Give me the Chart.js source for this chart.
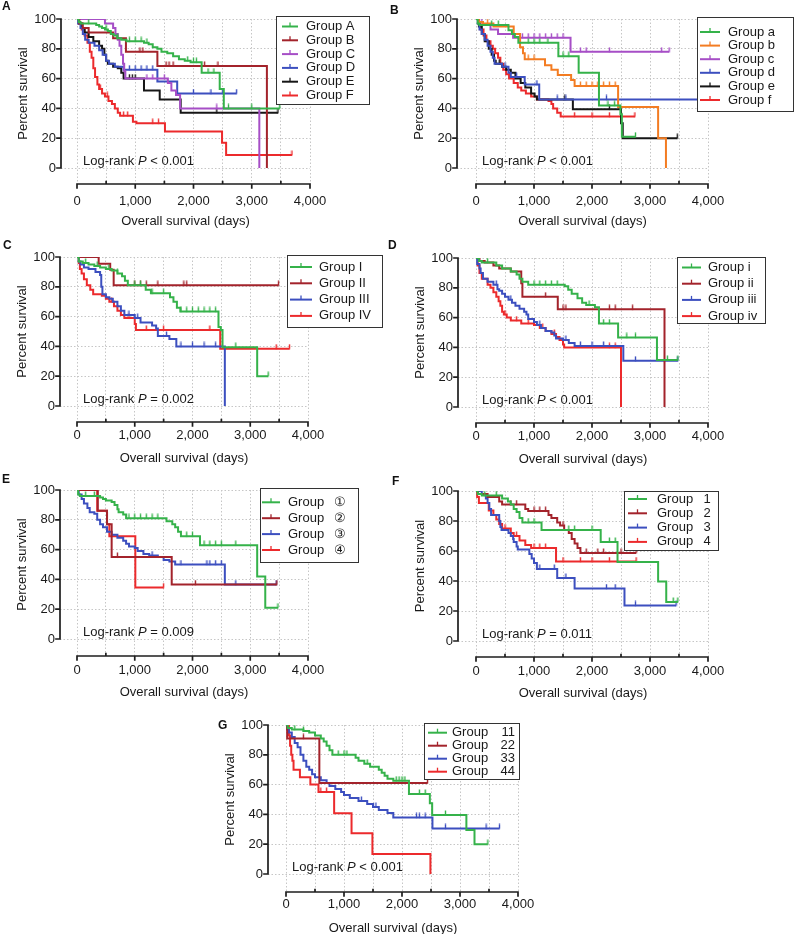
<!DOCTYPE html>
<html>
<head>
<meta charset="utf-8">
<script src="https://cdn.jsdelivr.net/npm/chart.js@4.4.0/dist/chart.umd.min.js"></script>
<style>
  body { margin: 0; background: #fff; }
  #fig { position: relative; width: 795px; height: 934px; overflow: hidden; background: #fff; }
  #fig canvas { position: absolute; }
  .tag { position: absolute; font: bold 12px "Liberation Sans", Arial, sans-serif; color: #111; line-height: 14px; }
</style>
</head>
<body>
<div id="fig"></div>
<script>
// axis ticks shared by every panel
const X_TICKS = [0, 500, 1000, 1500, 2000, 2500, 3000, 3500, 4000];
const Y_TICKS = [0, 20, 40, 60, 80, 100];

// Kaplan-Meier steps as [day, percent]; *_C = censored days
// Panel A
const A1 = [[0,100],[30,98],[60,97],[330,96],[380,95],[430,94],[480,93],[530,92],[580,90],[630,89],[690,87],[760,86],[850,85],[1150,84],[1230,83],[1300,81],[1380,80],[1450,78],[1550,77],[1650,75],[1750,73],[1850,72],[1950,71],[2140,64],[2450,53],[2520,40],[3480,40]];
const A1_C = [200, 500, 700, 900, 1000, 1100, 1200, 1900, 2000, 2050, 2250, 2350, 2600, 3000, 3480];
const A2 = [[0,100],[40,97],[100,94],[200,91],[620,87],[840,78],[1380,68.5],[3260,0]];
const A2_C = [1080, 1130, 1530, 1580, 1650, 2190, 2420];
const A3 = [[0,100],[480,97],[620,94],[660,90],[700,86],[730,82],[760,76],[790,70],[810,65],[830,60],[1560,57],[1620,52],[1700,49],[1770,40],[3130,0]];
const A3_C = [300, 400, 1200, 1300, 1500, 2400];
const A4 = [[0,100],[20,97],[60,94],[100,90],[140,86],[200,84],[300,82],[380,79],[440,76],[500,72],[550,70],[650,68],[800,66],[1380,58],[1720,50],[2740,50]];
const A4_C = [900, 1000, 1100, 1200, 1300, 2000, 2300, 2500, 2740];
const A5 = [[0,100],[30,97],[80,94],[130,91],[200,88],[280,85],[380,82],[430,80],[470,76],[500,72],[530,70],[620,68],[700,67],[760,64],[800,60],[1150,52],[1420,46],[1780,37],[3450,37]];
const A5_C = [900, 950, 1000, 2400, 3450];
const A6 = [[0,100],[30,97],[80,93],[130,89],[180,84],[220,78],[250,74],[280,67],[310,61],[350,56],[380,53],[430,50],[480,48],[540,45],[600,43],[650,40],[700,37],[740,35],[960,31],[1020,30],[1510,24.5],[2490,17],[2560,8.7],[3690,8.7]];
const A6_C = [400, 520, 800, 870, 1300, 1400, 3690];

// Panel B
const B1 = [[0,100],[30,97],[60,96],[560,92.5],[620,90],[670,88],[730,84],[1420,75],[1770,64],[2120,42],[2490,36],[2515,21],[2750,21]];
const B1_C = [270, 384, 900, 1000, 1100, 1240, 1500, 1600, 2275, 2390, 2750];
const B2 = [[0,100],[50,98],[120,97],[300,95],[650,90],[760,81],[810,77],[840,73],[1190,69],[1300,66],[1410,62.5],[1640,59],[1700,55],[2450,41],[3140,20],[3275,0]];
const B2_C = [200, 900, 1000, 1800, 1900, 2000, 2100, 2200, 2300, 2400];
const B3 = [[0,100],[40,98],[120,96],[250,93],[380,90],[640,87.5],[1630,78],[3330,78]];
const B3_C = [100, 800, 900, 1000, 1100, 1200, 1300, 1400, 1500, 1800, 1900, 2300, 3200, 3330];
const B4 = [[0,100],[30,97],[60,93],[100,90],[150,86],[200,82],[250,78],[290,74],[320,70],[450,68],[560,64],[600,61],[840,56],[1090,46],[3960,46]];
const B4_C = [500, 700, 1050, 1400, 1550, 2250, 3960];
const B5 = [[0,100],[50,95],[100,90],[150,85],[220,80],[270,76],[310,72],[340,70],[450,68],[520,66],[600,64],[680,60],[770,57],[850,54],[950,50],[1010,48],[1050,46],[1670,39.5],[2500,30],[2530,20],[3470,20]];
const B5_C = [400, 1530, 2300, 3470];
const B6 = [[0,100],[40,97],[80,93],[130,89],[180,85],[250,82],[290,80],[330,77],[380,74],[420,70],[470,66],[520,63],[570,60],[650,57],[720,54],[780,52],[860,50],[950,48],[1050,46],[1250,45],[1300,43],[1330,40],[1400,37],[1460,34.5],[2740,34.5]];
const B6_C = [1700, 2000, 2300, 2500, 2740];

// Panel C
const C1 = [[0,100],[30,97],[100,96],[200,95],[300,94],[400,93],[500,92],[600,91],[700,89],[780,87],[830,84],[880,81],[1190,78],[1280,75.6],[1610,73],[1670,70],[1730,66],[1790,63.5],[2450,53],[2490,51],[2520,39.5],[3120,20],[3310,20]];
const C1_C = [150, 350, 550, 700, 1000, 1100, 1300, 1500, 1800, 1900, 2000, 2100, 2200, 2300, 2400, 2750, 3310];
const C2 = [[0,100],[375,95.5],[575,91.5],[635,81],[3490,81]];
const C2_C = [1000, 1100, 1200, 1400, 1850, 1900, 3490];
const C3 = [[0,100],[30,97],[60,95],[120,93],[200,92],[320,90],[400,88],[420,80],[440,75],[500,73],[560,72],[620,70],[700,67],[760,64],[820,61],[1000,59],[1100,56],[1300,54],[1370,52],[1400,47],[1600,45],[1720,40],[2560,0]];
const C3_C = [900, 1050, 1550, 1800, 2000, 2200, 2400];
const C4 = [[0,100],[30,96],[50,92],[80,89],[120,85],[170,81],[230,78],[280,75],[430,74],[500,72],[560,70],[640,67],[700,64],[760,61],[820,59],[1000,55],[1020,51],[2480,38.5],[3680,38.5]];
const C4_C = [600, 900, 1200, 1500, 2300, 3450, 3680];

// Panel D
const D1 = [[0,100],[50,98],[100,97],[350,95],[450,93],[600,91],[700,89],[750,86],[800,84],[900,82],[1530,81],[1590,78.7],[1650,76],[1750,73],[1830,70],[1900,68.5],[2050,67],[2120,56],[2450,46.7],[3120,31.5],[3480,31.5]];
const D1_C = [200, 1000, 1100, 1200, 1300, 1400, 1950, 2200, 2300, 2600, 2750, 3300, 3480];
const D2 = [[0,100],[60,98],[150,97],[300,95],[400,93],[600,91],[780,83],[800,74],[1410,65.6],[3250,0]];
const D2_C = [1200, 1500, 1550, 2300, 2400, 2700];
const D3 = [[0,100],[20,96],[60,93],[80,90],[120,86],[200,84],[300,82],[370,79],[400,78],[450,76],[500,74],[560,72],[620,70],[680,68],[750,66],[830,64],[870,62],[900,59],[1000,57],[1050,55],[1120,53],[1200,51],[1300,50],[1350,48],[1380,46],[1500,45],[1600,43],[1700,41],[2540,31],[3480,31]];
const D3_C = [350, 600, 1100, 1550, 1800, 2000, 2200, 2750, 3480];
const D4 = [[0,100],[30,95],[60,90],[100,86],[200,82],[250,80],[300,77],[350,74],[390,71],[420,68],[450,64],[480,62],[530,60],[600,58],[780,56],[1000,55],[1100,53],[1200,51],[1300,49],[1380,47],[1440,45],[1500,42],[1520,40],[2500,0]];
const D4_C = [500, 700, 900, 1150, 1350, 2300, 2400];

// Panel E
const E1 = [[0,100],[20,97],[50,96],[400,95],[450,94],[500,93],[600,92],[650,90],[700,87],[720,85],[800,83.6],[850,81],[1550,79],[1650,77],[1700,75],[1750,72],[1800,69],[2130,63],[3120,42],[3260,21],[3480,21]];
const E1_C = [150, 300, 900, 1000, 1100, 1200, 1300, 1400, 1900, 2000, 2200, 2300, 2400, 2500, 2750, 3480];
const E2 = [[0,100],[360,86],[520,77],[600,55],[1640,36.5],[3460,36.5]];
const E2_C = [150, 700, 2050, 3460];
const E3 = [[0,100],[30,97],[80,94],[120,91],[180,88],[220,85],[300,84],[350,80],[400,77],[450,75],[520,72],[600,70],[700,68],[800,66],[850,64],[900,62],[1000,61],[1050,59],[1150,57],[1250,56],[1400,55],[1500,53],[1600,52],[1700,50],[2560,36.5],[3450,36.5]];
const E3_C = [1300, 1800, 2250, 2300, 2400, 2500, 2750, 3450];
const E4 = [[0,100],[350,86],[520,77],[560,69],[1010,34.5],[1500,34.5]];
const E4_C = [1500];

// Panel F
const F1 = [[0,100],[30,98],[100,97],[450,95],[550,93],[600,91],[650,88],[700,86],[750,82],[800,79],[1130,74],[2150,66],[2440,52.7],[3140,39.7],[3280,26],[3480,26]];
const F1_C = [150, 350, 900, 1000, 1600, 1700, 2000, 2300, 2400, 3400, 3480];
const F2 = [[0,100],[30,98],[200,96],[400,93],[450,91],[850,88],[900,86.6],[1250,84],[1300,82],[1400,79],[1450,77],[1520,74],[1600,72],[1650,68],[1700,65],[1750,62],[1800,58.7],[2760,58.7]];
const F2_C = [600, 700, 1000, 1100, 1200, 1500, 1900, 2100, 2200, 2500, 2760];
const F3 = [[0,100],[100,98],[170,95],[200,92],[230,88],[260,84],[400,80],[420,76],[440,74],[560,72],[600,70],[640,68],[650,66],[700,63],[720,61],[920,58],[960,55],[1000,52],[1050,48],[1400,42],[1700,35],[2560,23.7],[3450,23.7]];
const F3_C = [1100, 1350, 1550, 2250, 2400, 2750, 3450];
const F4 = [[0,100],[20,96],[50,92],[220,87],[300,84],[350,81],[400,78],[450,75],[600,72],[650,70],[750,67],[850,64],[950,62],[1380,53],[2760,53]];
const F4_C = [500, 700, 1000, 1100, 1200, 1500, 1800, 2000, 2300, 2760];

// Panel G
const G1 = [[0,100],[30,98],[100,97],[300,96],[400,95],[500,93],[600,91],[650,89],[700,86],[750,83],[800,80],[1200,78],[1250,76],[1350,74],[1450,72],[1600,70],[1650,68],[1700,66],[1750,64],[1850,62.6],[2120,53.7],[2480,47.4],[2520,39.6],[3110,29.5],[3250,20],[3480,20]];
const G1_C = [150, 300, 900, 1000, 1050, 1400, 1900, 1950, 2000, 2050, 2300, 2400, 2750, 3480];
const G2 = [[0,100],[20,91],[575,61],[2440,61]];
const G2_C = [300, 2440];
const G3 = [[0,100],[20,97],[50,95],[100,92],[150,88],[200,85],[250,80],[300,76],[350,72],[400,70],[450,67],[500,65],[600,63],[700,61],[750,59],[850,57],[950,55],[1000,53],[1100,51],[1250,49],[1400,47],[1500,45],[1600,43],[1750,41],[1850,38],[2525,30.6],[3680,30.6]];
const G3_C = [1300, 1550, 2250, 2300, 2400, 2750, 3450, 3680];
const G4 = [[0,100],[50,93],[70,86],[90,80],[110,76],[130,70],[240,65],[420,60],[560,55],[830,40.7],[1130,27.3],[1490,13.4],[2490,0]];
const G4_C = [600, 700];

const LABELS_A = ['Group A', 'Group B', 'Group C', 'Group D', 'Group E', 'Group F'];
const LABELS_B = ['Group a', 'Group b', 'Group c', 'Group d', 'Group e', 'Group f'];
const LABELS_C = ['Group I', 'Group II', 'Group III', 'Group IV'];
const LABELS_D = ['Group i', 'Group ii', 'Group iii', 'Group iv'];
const LABELS_E = ['Group\t\u2460', 'Group\t\u2461', 'Group\t\u2462', 'Group\t\u2463'];
const LABELS_F = ['Group\t1', 'Group\t2', 'Group\t3', 'Group\t4'];
const LABELS_G = ['Group\t11', 'Group\t22', 'Group\t33', 'Group\t44'];

const P_TEXT = { A: '< 0.001', B: '< 0.001', C: '= 0.002', D: '< 0.001', E: '= 0.009', F: '= 0.011', G: '< 0.001' };

const GREEN = '#35b24a', DARKRED = '#a3232b', PURPLE = '#a64ec6', BLUE = '#3c4fbf',
      BLACK = '#161616', RED = '#ec2a2c', ORANGE = '#f37c22';
const FONT = '"Liberation Sans", Arial, Helvetica, sans-serif';
const AXIS_COLOR = '#1e1e1e';
const TEXT_COLOR = '#1a1a1a';

function group(steps, cens, color) { return { steps, cens, color }; }

// geo: page pixels of the axes; lab/ttl = distance of tick labels / title below the x axis line
const PANELS = [
  { letter: 'A', box: { x: 0, y: 0, w: 395, h: 232 }, tagAt: [2, -1],
    geo: { yAxis: 61, x0: 77, x4000: 310, y100: 19, y0: 168, xAxis: 184, lab: 17, ttl: 37 },
    legend: { left: 276, top: 16, right: 369, bottom: 104, row0: 26.5, gap: 13.8, l1: 282, l2: 298, tx: 306 },
    labels: LABELS_A,
    series: [group(A1, A1_C, GREEN), group(A2, A2_C, DARKRED), group(A3, A3_C, PURPLE),
             group(A4, A4_C, BLUE), group(A5, A5_C, BLACK), group(A6, A6_C, RED)] },
  { letter: 'B', box: { x: 395, y: 0, w: 400, h: 232 }, tagAt: [390, 3],
    geo: { yAxis: 457, x0: 476, x4000: 708, y100: 19, y0: 168, xAxis: 184, lab: 17, ttl: 37 },
    legend: { left: 697, top: 17, right: 793, bottom: 111, row0: 32, gap: 13.6, l1: 700, l2: 720, tx: 728 },
    labels: LABELS_B,
    series: [group(B1, B1_C, GREEN), group(B2, B2_C, ORANGE), group(B3, B3_C, PURPLE),
             group(B4, B4_C, BLUE), group(B5, B5_C, BLACK), group(B6, B6_C, RED)] },
  { letter: 'C', box: { x: 0, y: 232, w: 395, h: 236 }, tagAt: [3, 238],
    geo: { yAxis: 60, x0: 77, x4000: 308, y100: 257, y0: 406, xAxis: 422, lab: 13, ttl: 36 },
    legend: { left: 287, top: 255, right: 382, bottom: 327, row0: 267, gap: 16.3, l1: 290, l2: 312, tx: 319 },
    labels: LABELS_C,
    series: [group(C1, C1_C, GREEN), group(C2, C2_C, DARKRED), group(C3, C3_C, BLUE), group(C4, C4_C, RED)] },
  { letter: 'D', box: { x: 395, y: 232, w: 400, h: 236 }, tagAt: [388, 238],
    geo: { yAxis: 458, x0: 476, x4000: 708, y100: 258, y0: 407, xAxis: 423, lab: 13, ttl: 36 },
    legend: { left: 677, top: 257, right: 765, bottom: 323, row0: 267.5, gap: 16.2, l1: 682, l2: 701, tx: 708 },
    labels: LABELS_D,
    series: [group(D1, D1_C, GREEN), group(D2, D2_C, DARKRED), group(D3, D3_C, BLUE), group(D4, D4_C, RED)] },
  { letter: 'E', box: { x: 0, y: 468, w: 395, h: 232 }, tagAt: [2, 472],
    geo: { yAxis: 60, x0: 77, x4000: 308, y100: 490, y0: 639, xAxis: 656, lab: 14, ttl: 36 },
    legend: { left: 260, top: 488, right: 358, bottom: 562, row0: 502.3, gap: 15.9, l1: 262, l2: 280, tx: 288, tagX: 340, tagAlign: 'center' },
    labels: LABELS_E,
    series: [group(E1, E1_C, GREEN), group(E2, E2_C, DARKRED), group(E3, E3_C, BLUE), group(E4, E4_C, RED)] },
  { letter: 'F', box: { x: 395, y: 468, w: 400, h: 232 }, tagAt: [392, 474],
    geo: { yAxis: 458, x0: 476, x4000: 708, y100: 491, y0: 641, xAxis: 657, lab: 14, ttl: 36 },
    legend: { left: 624, top: 491, right: 718, bottom: 550, row0: 499, gap: 14.3, l1: 628, l2: 647, tx: 657, tagX: 707, tagAlign: 'center' },
    labels: LABELS_F,
    series: [group(F1, F1_C, GREEN), group(F2, F2_C, DARKRED), group(F3, F3_C, BLUE), group(F4, F4_C, RED)] },
  { letter: 'G', box: { x: 200, y: 700, w: 420, h: 234 }, tagAt: [218, 718],
    geo: { yAxis: 268, x0: 286, x4000: 518, y100: 725, y0: 874, xAxis: 892, lab: 12, ttl: 36 },
    legend: { left: 424, top: 723, right: 519, bottom: 779, row0: 732.7, gap: 13, l1: 428, l2: 447, tx: 452, tagX: 515, tagAlign: 'right' },
    labels: LABELS_G,
    series: [group(G1, G1_C, GREEN), group(G2, G2_C, DARKRED), group(G3, G3_C, BLUE), group(G4, G4_C, RED)] },
];

// survival shown by the step curve at day t (for placing censor ticks)
function survivalAt(steps, t) {
  let s = steps[0][1];
  for (const [d, v] of steps) {
    if (d <= t) s = v; else break;
  }
  return s;
}

// small upward tick used as the censor marker
const tickCache = {};
function censorMark(color) {
  if (!tickCache[color]) {
    const c = document.createElement('canvas');
    c.width = 3;
    c.height = 10;
    const x = c.getContext('2d');
    x.strokeStyle = color;
    x.lineWidth = 1.4;
    x.beginPath();
    x.moveTo(1.5, 0.5);
    x.lineTo(1.5, 5.5);
    x.stroke();
    tickCache[color] = c;
  }
  return tickCache[color];
}

function makeDecor(p) {
  const ox = p.box.x, oy = p.box.y;
  return {
    id: 'kmDecor' + p.letter,
    afterDraw(chart) {
      const ctx = chart.ctx, xs = chart.scales.x, ys = chart.scales.y;
      const ax = chart.chartArea.left, ay = chart.chartArea.bottom;
      const x0 = xs.getPixelForValue(0), x4 = xs.getPixelForValue(4000);
      const y0 = ys.getPixelForValue(0), y100 = ys.getPixelForValue(100);
      ctx.save();

      // offset axes, GraphPad style
      ctx.strokeStyle = AXIS_COLOR;
      ctx.lineWidth = 1.7;
      ctx.lineCap = 'square';
      ctx.beginPath();
      ctx.moveTo(ax, y0); ctx.lineTo(ax, y100);
      Y_TICKS.forEach((v) => { const y = ys.getPixelForValue(v); ctx.moveTo(ax - 4, y); ctx.lineTo(ax, y); });
      ctx.moveTo(x0, ay); ctx.lineTo(x4, ay);
      X_TICKS.forEach((v) => {
        const x = xs.getPixelForValue(v);
        if (v % 1000 === 0) { ctx.moveTo(x, ay); ctx.lineTo(x, ay + 4); }
        else { ctx.moveTo(x, ay); ctx.lineTo(x, ay - 2.5); }
      });
      ctx.stroke();

      // axis titles
      ctx.fillStyle = TEXT_COLOR;
      ctx.font = '13px ' + FONT;
      ctx.textAlign = 'center';
      ctx.textBaseline = 'middle';
      ctx.fillText('Overall survival (days)', (ax + x4) / 2, ay + p.geo.ttl);
      ctx.save();
      ctx.translate(ax - 38, (y0 + y100) / 2);
      ctx.rotate(-Math.PI / 2);
      ctx.fillText('Percent survival', 0, 0);
      ctx.restore();

      // log-rank note
      ctx.textAlign = 'left';
      let tx = x0 + 6;
      const ty = y0 - 7;
      [['Log-rank ', ''], ['P', 'italic '], [' ' + P_TEXT[p.letter], '']].forEach(([s, st]) => {
        ctx.font = st + '13px ' + FONT;
        ctx.fillText(s, tx, ty);
        tx += ctx.measureText(s).width;
      });

      // boxed legend
      const lg = p.legend;
      ctx.fillStyle = '#fff';
      ctx.fillRect(lg.left - ox, lg.top - oy, lg.right - lg.left, lg.bottom - lg.top);
      ctx.strokeStyle = '#333';
      ctx.lineWidth = 1;
      ctx.strokeRect(lg.left - ox + 0.5, lg.top - oy + 0.5, lg.right - lg.left, lg.bottom - lg.top);
      ctx.font = '13px ' + FONT;
      p.series.forEach((s, i) => {
        const y = lg.row0 + i * lg.gap - oy;
        const mx = (lg.l1 + lg.l2) / 2 - ox;
        ctx.strokeStyle = s.color;
        ctx.lineWidth = 2;
        ctx.lineCap = 'butt';
        ctx.beginPath();
        ctx.moveTo(lg.l1 - ox, y); ctx.lineTo(lg.l2 - ox, y);
        ctx.stroke();
        ctx.lineWidth = 1.3;
        ctx.beginPath();
        ctx.moveTo(mx, y); ctx.lineTo(mx, y - 4);
        ctx.stroke();
        const [name, tag] = p.labels[i].split('\t');
        ctx.fillStyle = TEXT_COLOR;
        ctx.textAlign = 'left';
        ctx.fillText(name, lg.tx - ox, y);
        if (tag) {
          ctx.textAlign = lg.tagAlign;
          ctx.fillText(tag, lg.tagX - ox, y);
        }
      });
      ctx.restore();
    }
  };
}

const fig = document.getElementById('fig');

function makePanel(p) {
  const cv = document.createElement('canvas');
  cv.width = p.box.w;
  cv.height = p.box.h;
  cv.style.left = p.box.x + 'px';
  cv.style.top = p.box.y + 'px';
  fig.appendChild(cv);

  const tag = document.createElement('div');
  tag.className = 'tag';
  tag.textContent = p.letter;
  tag.style.left = p.tagAt[0] + 'px';
  tag.style.top = p.tagAt[1] + 'px';
  fig.appendChild(tag);

  const g = p.geo;
  const left = g.yAxis - p.box.x;
  const bottom = g.xAxis - p.box.y;
  const xMin = -(g.x0 - g.yAxis) / (g.x4000 - g.x0) * 4000;
  const yMin = -(g.xAxis - g.y0) / (g.y0 - g.y100) * 100;

  const datasets = [];
  p.series.forEach((s) => {
    datasets.push({
      data: s.steps.map(([x, y]) => ({ x, y })),
      borderColor: s.color,
      borderWidth: 2,
      stepped: true,
      pointRadius: 0,
      fill: false,
    });
    datasets.push({
      data: s.cens.map((t) => ({ x: t, y: survivalAt(s.steps, t) })),
      showLine: false,
      pointStyle: censorMark(s.color),
      pointRadius: 3,
      borderColor: s.color,
    });
  });

  const tickFont = { family: FONT, size: 13 };
  new Chart(cv, {
    type: 'line',
    data: { datasets },
    options: {
      responsive: false,
      animation: false,
      events: [],
      devicePixelRatio: 1,
      layout: {
        padding: { left: 0, top: g.y100 - p.box.y, right: p.box.x + p.box.w - g.x4000, bottom: 0 },
      },
      plugins: { legend: { display: false }, tooltip: { enabled: false } },
      scales: {
        x: {
          type: 'linear',
          min: xMin,
          max: 4000,
          afterFit: (sc) => { sc.height = p.box.h - bottom; },
          afterBuildTicks: (sc) => { sc.ticks = X_TICKS.map((v) => ({ value: v })); },
          ticks: {
            autoSkip: false,
            maxRotation: 0,
            padding: g.lab - 7.8,
            color: TEXT_COLOR,
            font: tickFont,
            callback: (v) => (v % 1000 === 0 ? v.toLocaleString('en-US') : ''),
          },
          grid: { color: '#c6c6c6', lineWidth: 1, drawTicks: false },
          border: { display: false, dash: [1.5, 2] },
        },
        y: {
          type: 'linear',
          min: yMin,
          max: 100,
          afterFit: (sc) => { sc.width = left; },
          afterBuildTicks: (sc) => { sc.ticks = Y_TICKS.map((v) => ({ value: v })); },
          ticks: { autoSkip: false, padding: 5, color: TEXT_COLOR, font: tickFont },
          grid: { color: '#c6c6c6', lineWidth: 1, drawTicks: false },
          border: { display: false, dash: [1.5, 2] },
        },
      },
    },
    plugins: [makeDecor(p)],
  });
}

PANELS.forEach(makePanel);
</script>
</body>
</html>
